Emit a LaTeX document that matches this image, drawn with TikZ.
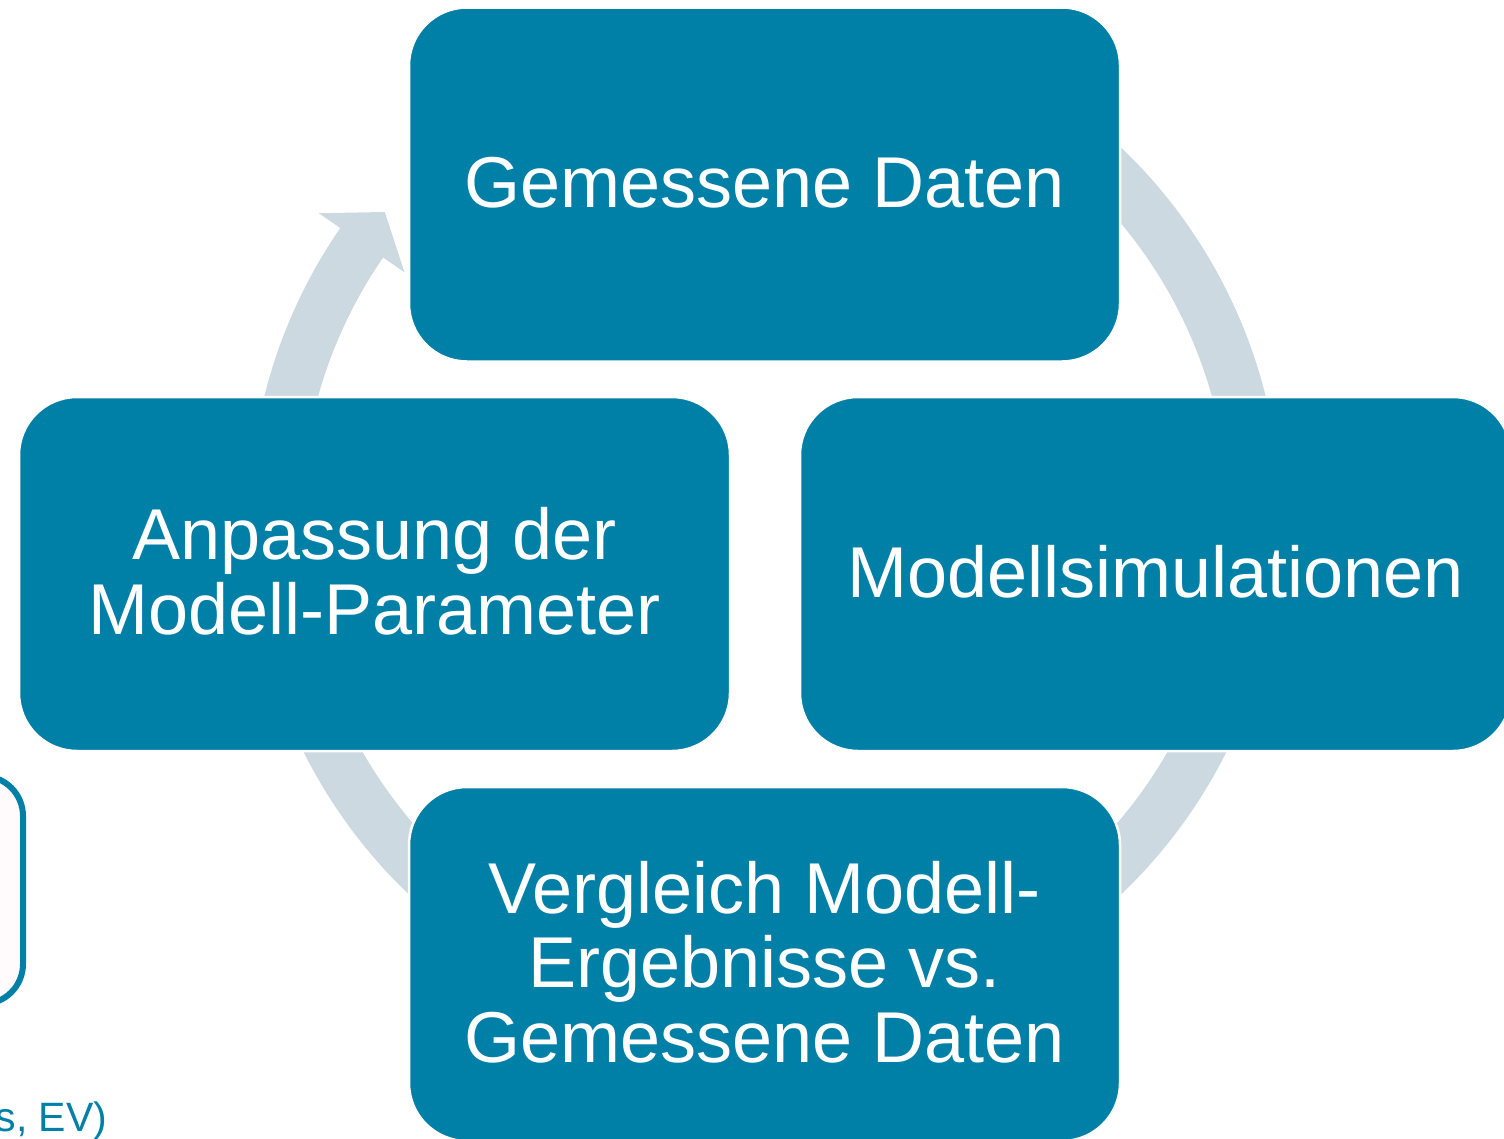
\documentclass[tikz,border=0pt]{standalone}
\usepackage{fontspec}
\setmainfont{Liberation Sans}
\definecolor{teal0}{RGB}{0,128,166}
\definecolor{band}{RGB}{204,217,225}
\definecolor{pinkwhite}{RGB}{255,251,253}
\newcommand\cyclearrow[3]{% start angle, base angle, tip angle
  \fill[band] (#1:516) arc[start angle=#1, end angle=#2, radius=516]
    -- (#2:542) -- (#3:490) -- (#2:438) -- (#2:464)
    arc[start angle=#2, end angle=#1, radius=464] -- cycle;}
\begin{document}
\begin{tikzpicture}[x=1pt,y=1pt,
  box/.style={fill=teal0, draw=white, line width=2.5pt, rounded corners=58pt,
    minimum width=711pt, minimum height=354pt, inner sep=0pt, text=white,
    align=center, font=\fontsize{72}{74.5}\selectfont},
  extbox/.style={fill=pinkwhite, draw=teal0, line width=6pt, rounded corners=40pt,
    minimum width=83pt, minimum height=228pt, inner sep=0pt},
  cuttext/.style={text=teal0, inner sep=0pt, font=\fontsize{41}{48}\selectfont}]
\useasboundingbox (0,0) rectangle (1504,-1138);
% cycle arrows (behind the boxes)
\begin{scope}[shift={(765,-521)}]
  \cyclearrow{60}{4.6}{0}
  \cyclearrow{-5}{-55.4}{-60}
  \cyclearrow{-115}{-165.4}{-170}
  \cyclearrow{185}{145.4}{140.9}
\end{scope}
% boxes (reference point of multi-line text = baseline of its last line)
\node[box, text height=50pt, text depth=5pt] (top) at (764.5,-184.5) {Gemessene Daten};
\node[box, text height=125pt, text depth=5pt] (left) at (374.5,-574) {Anpassung der\\Modell-Parameter};
\node[box, text height=50pt, text depth=4pt] (right) at (1155.5,-574) {Modellsimulationen};
\node[box, text height=200pt, text depth=4pt] (bottom) at (764.5,-964) {Vergleich Modell-\\Ergebnisse vs.\\Gemessene Daten};
% partially visible elements at the left edge
\node[extbox] (ext) at (-18.5,-890) {};
\node[cuttext, anchor=base west] (cut) at (-4.6,-1131) {s, EV)};
\end{tikzpicture}
\end{document}
